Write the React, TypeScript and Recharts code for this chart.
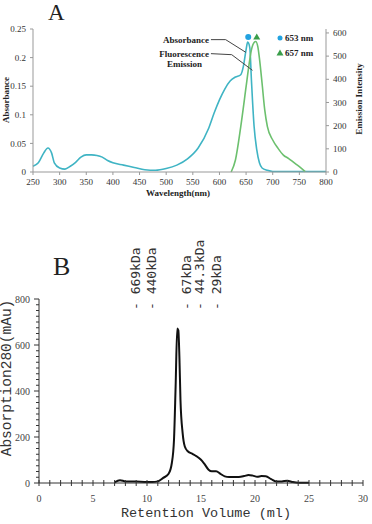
import { LineChart, Line, XAxis, YAxis, ReferenceLine, ReferenceDot } from "recharts";

// Panel A: absorbance spectrum (left axis) and fluorescence emission (right axis)
const absWavelength = [250, 260, 270, 278, 285, 290, 300, 310, 320, 330, 340, 350, 360, 370, 380, 390, 400, 420, 440, 460, 480, 500, 520, 540, 560, 580, 590, 600, 610, 620, 630, 640, 645, 650, 653, 657, 660, 665, 670, 675, 680, 690, 700, 750, 800];
const absorbance = [0.01, 0.016, 0.033, 0.042, 0.033, 0.016, 0.007, 0.005, 0.01, 0.017, 0.026, 0.03, 0.03, 0.029, 0.026, 0.02, 0.016, 0.012, 0.008, 0.004, 0.003, 0.006, 0.012, 0.023, 0.042, 0.077, 0.103, 0.126, 0.145, 0.159, 0.166, 0.17, 0.185, 0.214, 0.227, 0.217, 0.161, 0.08, 0.039, 0.016, 0.007, 0.003, 0.001, 0.001, 0.001];
const emWavelength = [622, 630, 640, 650, 655, 660, 665, 668, 672, 675, 680, 685, 690, 700, 710, 720, 730, 740, 750, 761];
const emission = [0, 52, 196, 368, 455, 527, 559, 563, 541, 491, 383, 268, 196, 138, 102, 73, 58, 40, 23, 1];
const wavelengthTicks = [250, 300, 350, 400, 450, 500, 550, 600, 650, 700, 750, 800];
const absTicks = [0, 0.05, 0.1, 0.15, 0.2, 0.25];
const emTicks = [0, 100, 200, 300, 400, 500, 600];

// Panel B: size-exclusion chromatogram
const retention = [7, 7.5, 8, 9, 10, 10.5, 11, 11.5, 12, 12.3, 12.5, 12.65, 12.8, 12.9, 13, 13.1, 13.3, 13.5, 13.8, 14.2, 14.6, 15, 15.3, 15.7, 16, 16.4, 16.8, 17.2, 17.6, 18, 18.5, 19, 19.4, 19.8, 20.2, 20.6, 21, 21.5, 22, 22.5, 23, 23.5, 24, 25];
const a280 = [3, 12, 7, 6, 4, 4, 7, 22, 40, 87, 188, 419, 672, 664, 549, 361, 217, 159, 137, 127, 116, 101, 84, 58, 51, 51, 40, 29, 26, 26, 26, 30, 35, 32, 27, 30, 29, 17, 6, 7, 10, 4, 1, 1];
const markerVolume = [8.9, 10.4, 13.7, 14.9, 16.4];
const markerLabel = ["669kDa", "440kDa", "67kDa", "44.3kDa", "29kDa"];
const volumeTicks = Array.from({ length: 31 }, (_, i) => i);
const a280Ticks = Array.from({ length: 33 }, (_, i) => i * 25);

const absData = absWavelength.map((w, i) => ({ w, v: absorbance[i] }));
const emData = emWavelength.map((w, i) => ({ w, v: emission[i] }));
const secData = retention.map((ml, i) => ({ ml, v: a280[i] }));

const BLUE = "#3fb4c4";
const GREEN = "#6cc06e";
const serif = "'Liberation Serif', serif";
const mono = "'Liberation Mono', 'Courier New', Courier, 'Nimbus Mono PS', monospace";
const tickA = { fontSize: 9, fontFamily: serif, fill: "#333" };

function VolumeTick({ x, y, payload }: any) {
  const major = payload.value % 5 === 0;
  return (
    <g>
      <line x1={x} x2={x} y1={y - 3} y2={y + 3} stroke="#333" />
      {major && (
        <text x={x} y={y + 15} textAnchor="middle" dominantBaseline="central" fontSize={10} fontFamily={serif} fill="#444">
          {payload.value}
        </text>
      )}
    </g>
  );
}

function A280Tick({ x, y, payload }: any) {
  const major = payload.value % 200 === 0;
  return (
    <g>
      <line x1={x - (major ? 5 : 3)} x2={x} y1={y} y2={y} stroke="#333" />
      {major && (
        <text x={x - 9} y={y} textAnchor="end" dominantBaseline="central" fontSize={10} fontFamily={serif} fill="#444">
          {payload.value}
        </text>
      )}
    </g>
  );
}

function MarkerTick({ x, y, index }: any) {
  const ty = y + 11;
  return (
    <text x={x} y={ty} transform={`rotate(-90 ${x} ${ty})`} textAnchor="start" dominantBaseline="central" fontSize={13} fontFamily="'DejaVu Sans Mono', monospace" fill="#333">
      {"- " + markerLabel[index]}
    </text>
  );
}

function Triangle({ cx, cy }: any) {
  return <polygon points={`${cx},${cy - 3.5} ${cx - 3.5},${cy + 2.5} ${cx + 3.5},${cy + 2.5}`} fill="#3a9e4a" />;
}

export default function App() {
  return (
    <div style={{ position: "absolute", left: 0, top: 0, width: 372, height: 524, background: "#fff" }}>
      <div style={{ position: "absolute", left: 0, top: 0 }}>
        <LineChart width={372} height={200} margin={{ top: 29, right: 0, bottom: 0, left: 0 }}>
          <XAxis dataKey="w" type="number" domain={[250, 800]} ticks={wavelengthTicks} interval={0} height={28} tick={tickA} tickSize={3} tickMargin={4} stroke="#999" allowDuplicatedCategory={false} />
          <YAxis yAxisId="left" domain={[0, 0.25]} ticks={absTicks} interval={0} width={33} tick={tickA} tickSize={3} tickMargin={4} stroke="#999" />
          <YAxis yAxisId="right" orientation="right" domain={[0, 617]} ticks={emTicks} interval={0} width={46} tick={tickA} tickSize={3} tickMargin={4} stroke="#999" />
          <Line yAxisId="left" data={absData} dataKey="v" type="monotone" stroke={BLUE} strokeWidth={1.6} dot={false} isAnimationActive={false} />
          <Line yAxisId="right" data={emData} dataKey="v" type="monotone" stroke={GREEN} strokeWidth={1.6} dot={false} isAnimationActive={false} />
          <ReferenceLine yAxisId="left" segment={[{ x: 584, y: 0.2314 }, { x: 611.6, y: 0.2314 }]} stroke="#444" />
          <ReferenceLine yAxisId="left" segment={[{ x: 611.6, y: 0.2314 }, { x: 649.5, y: 0.2092 }]} stroke="#444" />
          <ReferenceLine yAxisId="left" segment={[{ x: 584, y: 0.2069 }, { x: 623, y: 0.2051 }]} stroke="#444" />
          <ReferenceLine yAxisId="left" segment={[{ x: 623, y: 0.2051 }, { x: 662, y: 0.1777 }]} stroke="#444" />
          <ReferenceDot yAxisId="left" x={654} y={0.236} r={3} fill="#22a2e0" stroke="none" />
          <ReferenceDot yAxisId="left" x={670} y={0.236} shape={Triangle} />
        </LineChart>
      </div>
      <div style={{ position: "absolute", left: 0, top: 200 }}>
        <LineChart width={372} height={324} data={secData} margin={{ top: 0, right: 9, bottom: 0, left: 0 }}>
          <XAxis xAxisId="mw" dataKey="ml" orientation="top" type="number" domain={[0, 30]} allowDataOverflow ticks={markerVolume} interval={0} height={99} axisLine={false} tickLine={false} tickSize={0} tickMargin={0} tick={MarkerTick} />
          <XAxis dataKey="ml" type="number" domain={[0, 30]} ticks={volumeTicks} interval={0} height={41} tickLine={false} tickSize={0} tickMargin={0} tick={VolumeTick} stroke="#333" />
          <YAxis domain={[0, 800]} ticks={a280Ticks} interval={0} width={39} tickLine={false} tickSize={0} tickMargin={0} tick={A280Tick} stroke="#333" />
          <Line dataKey="v" type="monotone" stroke="#111" strokeWidth={2} dot={false} isAnimationActive={false} />
        </LineChart>
      </div>
      <svg width={372} height={524} style={{ position: "absolute", left: 0, top: 0, pointerEvents: "none" }}>
        <text x={48} y={20} fontSize={23} fontFamily={serif} fill="#222">A</text>
        <text x={53} y={275} fontSize={26} fontFamily={serif} fill="#222">B</text>
        <g fontFamily={serif} fontWeight="bold" fontSize={9} fill="#222">
          <text x={209} y={43} textAnchor="end">Absorbance</text>
          <text x={209} y={57} textAnchor="end">Fluorescence</text>
          <text x={167} y={67}>Emission</text>
          <text x={285} y={41}>653 nm</text>
          <text x={285} y={56}>657 nm</text>
          <text x={178} y={193} textAnchor="middle" dominantBaseline="central">Wavelength(nm)</text>
          <text x={6} y={100} textAnchor="middle" dominantBaseline="central" transform="rotate(-90 6 100)">Absorbance</text>
          <text x={359} y={99} textAnchor="middle" dominantBaseline="central" transform="rotate(-90 359 99)">Emission Intensity</text>
        </g>
        <circle cx={280} cy={38} r={2.5} fill="#22a2e0" />
        <polygon points="280,49.5 276.5,55.5 283.5,55.5" fill="#3a9e4a" />
        <text x={7} y={378} textAnchor="middle" dominantBaseline="central" transform="rotate(-90 7 378)" fontSize={14.5} fontFamily={mono} fill="#333">Absorption280(mAu)</text>
        <text x={206} y={513} textAnchor="middle" dominantBaseline="central" fontSize={13.5} fontFamily={mono} fill="#333">Retention Volume (ml)</text>
      </svg>
    </div>
  );
}
